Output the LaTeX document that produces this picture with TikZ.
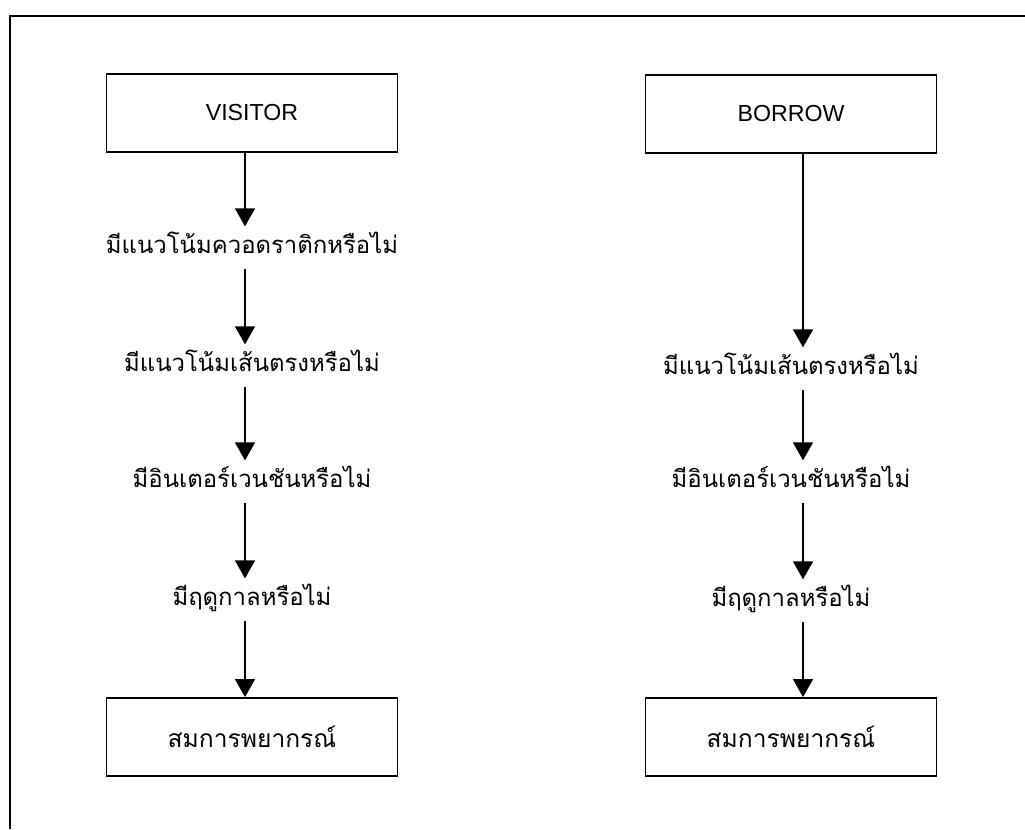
\documentclass[tikz,border=0pt]{standalone}
\usepackage{fontspec}
\setmainfont{Liberation Sans}
\newfontfamily\thaifont[Script=Thai]{Loma}
\usetikzlibrary{arrows.meta,positioning}
\tikzset{every picture/.style={line width=0.9pt}}
\tikzset{font=\fontsize{16.5}{20}\selectfont}
\tikzstyle{box}=[draw,line width=1.3pt,minimum width=72.75mm,minimum height=19.5mm,inner sep=0pt]
\tikzstyle{cond}=[anchor=base,inner sep=0pt,text height=6.5mm,text depth=3.75mm,font=\thaifont\fontsize{17}{20}\selectfont]

\begin{document}
\begin{tikzpicture}[x=0.25mm,y=-0.25mm]
\useasboundingbox (0,0) rectangle (1025,829);
\draw[line width=1.2pt] (1025,16) -- (10,16) -- (10,829);
% VISITOR column
\node[box] (A) at (252,113) {VISITOR};
\node[cond] (B) at (252,253) {มีแนวโน้มควอดราติกหรือไม่};
\node[cond] (C) at (252,371) {มีแนวโน้มเส้นตรงหรือไม่};
\node[cond] (D) at (252,487) {มีอินเตอร์เวนชันหรือไม่};
\node[cond] (E) at (252,605) {มีฤดูกาลหรือไม่};
\node[box,font=\thaifont\fontsize{17.5}{20}\selectfont] (F) at (252,737) {สมการพยากรณ์};
% BORROW column
\node[box] (A') at (791,114) {BORROW};
\node[cond] (C') at (791,374) {มีแนวโน้มเส้นตรงหรือไม่};
\node[cond] (D') at (791,487) {มีอินเตอร์เวนชันหรือไม่};
\node[cond] (E') at (791,606) {มีฤดูกาลหรือไม่};
\node[box,font=\thaifont\fontsize{17.5}{20}\selectfont] (F') at (791,737) {สมการพยากรณ์};
\begin{scope}[transform canvas={xshift=-1.75mm}]
\path[->,>={Triangle[length=4.5mm,width=5mm]}]
(A) edge (B)
(B) edge (C)
(C) edge (D)
(D) edge (E)
(E) edge (F);
\end{scope}
\begin{scope}[transform canvas={xshift=3mm}]
\path[->,>={Triangle[length=4.5mm,width=5mm]}]
(A') edge (C')
(C') edge (D')
(D') edge (E')
(E') edge (F');
\end{scope}
\end{tikzpicture}
\end{document}
